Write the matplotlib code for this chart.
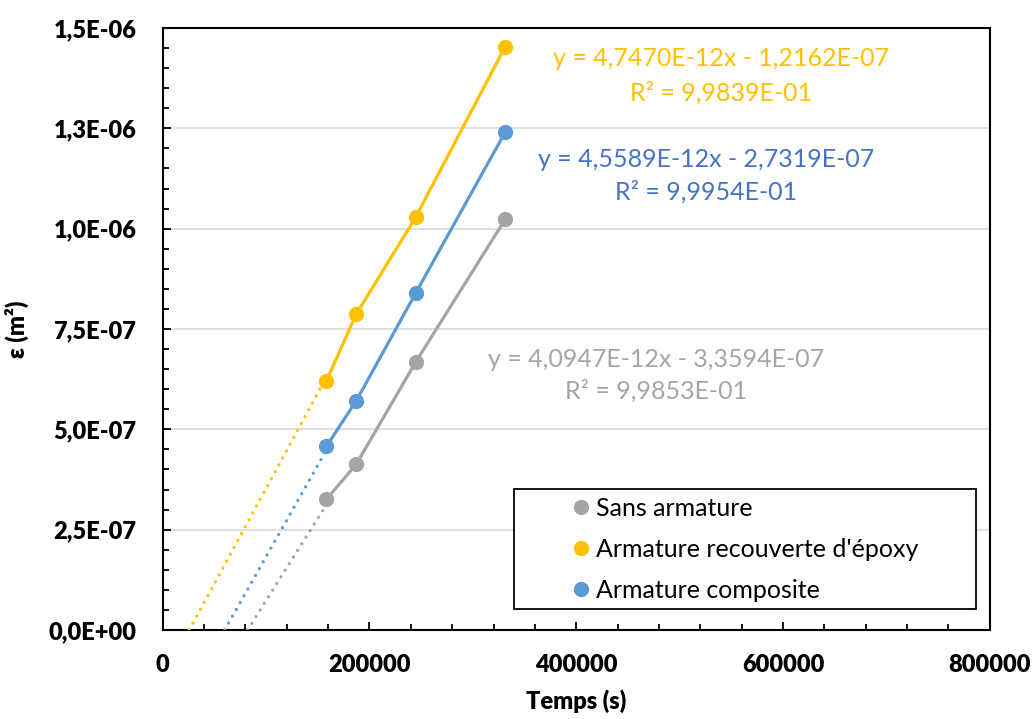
import numpy as np
import matplotlib
matplotlib.use('Agg')
import matplotlib.pyplot as plt
from matplotlib.lines import Line2D
from matplotlib.patches import Rectangle
from matplotlib.ticker import MultipleLocator

plt.rcParams['font.family'] = ['Lato', 'DejaVu Sans']

# données (temps en s, epsilon en m2)
temps = [158400, 187200, 244800, 331200]
sans_armature = [3.26e-7, 4.13e-7, 6.68e-7, 1.023e-6]
epoxy = [6.21e-7, 7.87e-7, 1.029e-6, 1.453e-6]
composite = [4.58e-7, 5.71e-7, 8.40e-7, 1.240e-6]

noms = ['Sans armature', "Armature recouverte d'époxy", 'Armature composite']
series = [sans_armature, epoxy, composite]
couleurs = ['#A5A5A5', '#FFC000', '#5B9BD5']
couleurs_texte = ['#A5A5A5', '#FFC000', '#4472C4']

# courbes de tendance
pentes = [4.0947e-12, 4.7470e-12, 4.5589e-12]
ordonnees = [-3.3594e-07, -1.2162e-07, -2.7319e-07]
r2 = [9.9853e-01, 9.9839e-01, 9.9954e-01]

x_ticks = [0, 200000, 400000, 600000, 800000]
y_ticks = [0, 2.5e-7, 5e-7, 7.5e-7, 1e-6, 1.25e-6, 1.5e-6]
y_labels = ['0,0E+00', '2,5E-07', '5,0E-07', '7,5E-07', '1,0E-06', '1,3E-06', '1,5E-06']


def sci(v):
    return f"{v:.4E}".replace('.', ',')


fig = plt.figure(figsize=(10.34, 7.19), dpi=100)
ax = fig.add_axes([0.1574, 0.1238, 0.7998, 0.8373])

for y, c in zip(series, couleurs):
    ax.plot(temps, y, color=c, lw=2.3, marker='o', ms=10, zorder=4)

# prolongement des tendances jusqu'a y = 0 (pointillés)
for a, b, c in zip(pentes, ordonnees, couleurs):
    xt = np.array([-b / a, temps[0]])
    ax.plot(xt, a * xt + b, color=c, lw=2.3, ls=(0, (0.05, 2.4)),
            dash_capstyle='round', zorder=3)

# equations
pos_eq = [(0.5965, 0.4485, 0.397), (0.675, 0.950, 0.892), (0.657, 0.781, 0.728)]
for (px, py1, py2), a, b, r, c in zip(pos_eq, pentes, ordonnees, r2, couleurs_texte):
    signe = '-' if b < 0 else '+'
    ax.text(px, py1, f"y = {sci(a)}x {signe} {sci(abs(b))}", transform=ax.transAxes,
            ha='center', va='center', fontsize=18, color=c, zorder=6)
    ax.text(px, py2, f"R² = {sci(r)}", transform=ax.transAxes,
            ha='center', va='center', fontsize=18, color=c, zorder=6)

ax.set_xlim(0, 800000)
ax.set_ylim(0, 1.5e-6)
ax.set_xticks(x_ticks)
ax.set_xticklabels([str(v) for v in x_ticks])
ax.set_yticks(y_ticks)
ax.set_yticklabels(y_labels)
ax.xaxis.set_minor_locator(MultipleLocator(40000))
ax.yaxis.set_minor_locator(MultipleLocator(5e-8))

ax.tick_params(which='both', direction='in', width=1.3, color='black')
ax.tick_params(which='major', length=6)
ax.tick_params(which='minor', length=4.5)
ax.tick_params(axis='y', which='major', pad=19, labelsize=17)
ax.tick_params(axis='x', which='major', pad=17, labelsize=17)
for lab in ax.get_xticklabels() + ax.get_yticklabels():
    lab.set_fontweight('heavy')

ax.grid(axis='y', which='major', color='#D9D9D9', lw=1.2)
ax.set_axisbelow(True)
for s in ax.spines.values():
    s.set_linewidth(1.5)
    s.set_color('black')

ax.set_xlabel('Temps (s)', fontsize=17, fontweight='heavy')
ax.xaxis.set_label_coords(0.5, -0.099)
ax.set_ylabel('ε (m²)', fontsize=17, fontweight='heavy')
ax.yaxis.set_label_coords(-0.162, 0.5)

# legende
ax.add_patch(Rectangle((0.4248, 0.0344), 0.5586, 0.1993, transform=ax.transAxes,
                       facecolor='white', edgecolor='black', lw=1.3, zorder=7))
handles = [Line2D([], [], ls='none', marker='o', ms=10, color=c) for c in couleurs]
leg = ax.legend(handles, noms, loc='center left', bbox_to_anchor=(0.4967, 0.134),
                frameon=False, fontsize=18, handlelength=0.6, handletextpad=0.3,
                borderpad=0, borderaxespad=0, labelspacing=0.71)
leg.set_zorder(8)

fig.savefig('out.png', dpi=100)
